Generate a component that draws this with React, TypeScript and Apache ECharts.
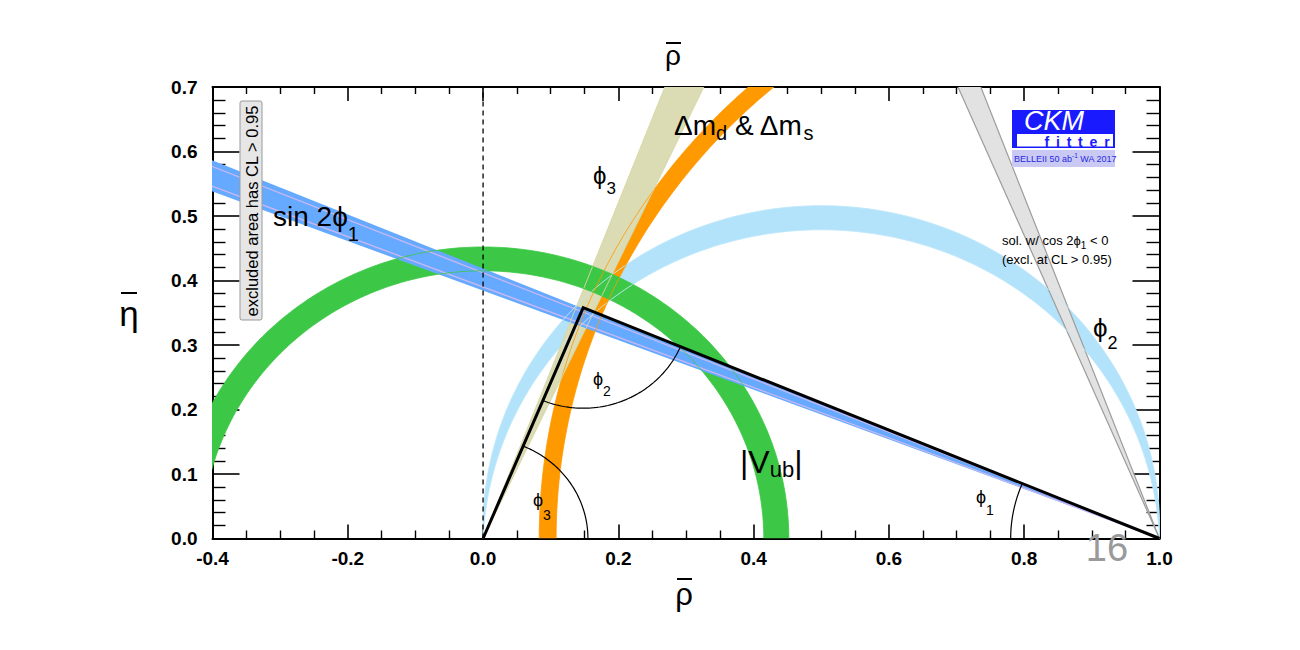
import React, { useEffect, useRef } from 'react';
import * as echarts from 'echarts';

// ---- axes ----
const xRange = [-0.4, 1.0];
const yRange = [0, 0.7];
const xTickStep = 0.2;
const yTickStep = 0.1;

// ---- constraint bands ----
const vubCenter = [0, 0];
const vubRadii = [0.415, 0.452];          // |Vub| annulus
const dmCenter = [1.03, 0];
const dmRadii = [0.922, 0.947];           // Δmd & Δms annulus
const sin2phi1Apex = [1, 0];
const sin2phi1Tan = [0.3843, 0.4186];     // wedge edges (tan φ1)
const sin2phi1Inner = [0.39, 0.4119];     // inner contour lines
const phi3Deg = [65.0, 69.0];             // φ3 wedge from origin
const phi2Deg = [88.2, 92.5];             // φ2 crescent through (0,0),(1,0)
const cosNegSlope = [2.35, 2.65];         // cos 2φ1 < 0 solution wedge from (1,0)

// ---- unitarity triangle ----
const triRho = [0, 0.148, 1];
const triEta = [0, 0.358, 0];
const angleArcRadii = [0.155, 0.156, 0.22]; // φ3, φ2, φ1

const FONT = "'Liberation Sans', Arial, Helvetica, sans-serif";
const D = Math.PI / 180;

function arc(cx: number, cy: number, r: number, a0: number, a1: number, n = 160) {
  const pts: number[][] = [];
  for (let i = 0; i <= n; i++) {
    const a = a0 + ((a1 - a0) * i) / n;
    pts.push([cx + r * Math.cos(a), cy + r * Math.sin(a)]);
  }
  return pts;
}

function phi2Circle(alphaDeg: number, reverse: boolean) {
  const a = alphaDeg * D;
  const cy = 0.5 / Math.tan(a);
  const r = 0.5 / Math.sin(a);
  const tR = Math.atan2(-cy, 0.5);
  let tL = Math.atan2(-cy, -0.5);
  if (tL < tR) tL += 2 * Math.PI;
  return reverse ? arc(0.5, cy, r, tL, tR) : arc(0.5, cy, r, tR, tL);
}

function polygonSeries(pts: number[][], fill: string, z: number) {
  return {
    type: 'custom',
    coordinateSystem: 'cartesian2d',
    clip: true,
    silent: true,
    z,
    data: [[0, 0]],
    renderItem: (_p: any, api: any) => ({
      type: 'polygon',
      shape: { points: pts.map((p) => api.coord(p)) },
      style: { fill, stroke: null },
    }),
  };
}

function polylineSeries(pts: number[][], stroke: string, lineWidth: number, z: number, opacity = 1) {
  return {
    type: 'custom',
    coordinateSystem: 'cartesian2d',
    clip: true,
    silent: true,
    z,
    data: [[0, 0]],
    renderItem: (_p: any, api: any) => ({
      type: 'polyline',
      shape: { points: pts.map((p) => api.coord(p)) },
      style: { stroke, lineWidth, fill: null, opacity },
    }),
  };
}

function subLabel(x: number, y: number, parts: [string, boolean][], mainSize: number, subSize: number, pad: number, fill = '#000') {
  const text = parts.map(([t, s]) => `{${s ? 's' : 'm'}|${t}}`).join('');
  return {
    type: 'text',
    x,
    y,
    silent: true,
    z: 100,
    style: {
      text,
      fill,
      fontFamily: FONT,
      fontSize: mainSize,
      textAlign: 'left',
      textVerticalAlign: 'middle',
      align: 'left',
      verticalAlign: 'middle',
      rich: {
        m: { fontSize: mainSize, fontFamily: FONT, fill },
        s: { fontSize: subSize, fontFamily: FONT, fill, padding: [pad, 0, 0, 0] },
      },
    },
  };
}

function plainText(x: number, y: number, text: string, size: number, fill = '#000', extra: any = {}) {
  const { style: extraStyle, ...rest } = extra;
  return {
    type: 'text',
    x,
    y,
    silent: true,
    z: 100,
    ...rest,
    style: {
      text,
      fill,
      fontFamily: FONT,
      fontSize: size,
      textAlign: 'center',
      textVerticalAlign: 'middle',
      align: 'center',
      verticalAlign: 'middle',
      ...(extraStyle || {}),
    },
  };
}

function buildOption() {
  const [v0, v1] = vubRadii;
  const vubPoly = [...arc(vubCenter[0], vubCenter[1], v1, 0, Math.PI), ...arc(vubCenter[0], vubCenter[1], v0, Math.PI, 0)];
  const [d0, d1] = dmRadii;
  const dmPoly = [...arc(dmCenter[0], dmCenter[1], d1, Math.PI / 2, Math.PI), ...arc(dmCenter[0], dmCenter[1], d0, Math.PI, Math.PI / 2)];
  const L = 2;
  const phi3Pt = (deg: number) => [L * Math.cos(deg * D), L * Math.sin(deg * D)];
  const phi3Poly = [[0, 0], phi3Pt(phi3Deg[0]), phi3Pt(phi3Deg[1])];
  const phi2Poly = [...phi2Circle(phi2Deg[0], false), ...phi2Circle(phi2Deg[1], true)];
  const sinPt = (t: number) => [-0.6, (sin2phi1Apex[0] + 0.6) * t];
  const sinPoly = [sin2phi1Apex, sinPt(sin2phi1Tan[1]), sinPt(sin2phi1Tan[0])];
  const cosPt = (s: number) => [1 - 0.8 / s, 0.8];
  const cosPoly = [[1, 0], cosPt(cosNegSlope[0]), cosPt(cosNegSlope[1])];

  const apex = [triRho[1], triEta[1]];
  const sideL = Math.atan2(apex[1], apex[0]);
  const sideR = Math.atan2(apex[1], apex[0] - 1);
  const arcPhi3 = arc(0, 0, angleArcRadii[0], 0, sideL, 60);
  const arcPhi2 = arc(apex[0], apex[1], angleArcRadii[1], sideL - Math.PI, sideR - Math.PI, 60);
  const arcPhi1 = arc(1, 0, angleArcRadii[2], sideR, Math.PI, 60);

  const lightBlue = '#b3e3fa';
  const orange = '#ff9900';
  const tan = '#dcdcb4';
  const green = '#3cc846';
  const blue = '#66aaff';

  const series: any[] = [
    polygonSeries(phi2Poly, lightBlue, 1),
    polygonSeries(dmPoly, orange, 2),
    polygonSeries(phi3Poly, tan, 3),
    polygonSeries(vubPoly, green, 4),
    polygonSeries(sinPoly, blue, 5),
    polylineSeries([sin2phi1Apex, sinPt(sin2phi1Inner[0])], '#cbb8f2', 1.3, 6),
    polylineSeries([sin2phi1Apex, sinPt(sin2phi1Inner[1])], '#cbb8f2', 1.3, 6),
    polygonSeries(cosPoly, '#e2e2e2', 6),
    polylineSeries([[1, 0], cosPt(cosNegSlope[0])], '#9c9c9c', 1.2, 7),
    polylineSeries([[1, 0], cosPt(cosNegSlope[1])], '#9c9c9c', 1.2, 7),
    // band contours
    polylineSeries(phi2Circle(phi2Deg[0], false), '#bfe8fb', 1, 8, 0.9),
    polylineSeries(phi2Circle(phi2Deg[1], false), '#bfe8fb', 1, 8, 0.9),
    polylineSeries(arc(dmCenter[0], 0, d0, Math.PI / 2, Math.PI), orange, 1, 8, 0.8),
    polylineSeries(arc(dmCenter[0], 0, d1, Math.PI / 2, Math.PI), orange, 1, 8, 0.8),
    polylineSeries([[0, 0], phi3Pt(phi3Deg[0])], '#d6d6a6', 1, 8, 0.9),
    polylineSeries([[0, 0], phi3Pt(phi3Deg[1])], '#d6d6a6', 1, 8, 0.9),
    polylineSeries(arc(0, 0, v0, 0, Math.PI), green, 1, 8, 0.8),
    polylineSeries(arc(0, 0, v1, 0, Math.PI), green, 1, 8, 0.8),
    // dashed rho = 0 line
    {
      type: 'line',
      data: [[0, yRange[0]], [0, yRange[1]]],
      symbol: 'none',
      silent: true,
      z: 9,
      lineStyle: { color: '#000', width: 1.3, type: [5, 4] },
    },
    // angle arcs
    polylineSeries(arcPhi3, '#000', 1.2, 10),
    polylineSeries(arcPhi2, '#000', 1.2, 10),
    polylineSeries(arcPhi1, '#000', 1.2, 10),
    // triangle
    {
      type: 'line',
      data: triRho.map((r, i) => [r, triEta[i]]),
      symbol: 'none',
      silent: true,
      z: 11,
      lineStyle: { color: '#000', width: 3, join: 'miter' },
    },
  ];

  const axisCommon = {
    type: 'value',
    splitLine: { show: false },
    axisLine: { show: true, onZero: false, lineStyle: { color: '#000', width: 2 } },
  };
  const labelStyle = {
    color: '#000',
    fontFamily: FONT,
    fontWeight: 'bold',
    fontSize: 19,
    formatter: (v: number) => v.toFixed(1),
  };

  const fitterRich: any = {
    l: { fontSize: 14, fontFamily: FONT, fontWeight: 'bold', fill: '#1a1aff', lineHeight: 11, padding: [0, 3.4, 0, 3.4] },
  };

  const graphic: any[] = [
    // axis titles
    plainText(684, 594, 'ρ', 31),
    { type: 'line', silent: true, shape: { x1: 677, y1: 579, x2: 692, y2: 579 }, style: { stroke: '#000', lineWidth: 2 } },
    plainText(673, 55, 'ρ', 28),
    { type: 'line', silent: true, shape: { x1: 666, y1: 43, x2: 681, y2: 43 }, style: { stroke: '#000', lineWidth: 2 } },
    plainText(129, 313, 'η', 35),
    { type: 'line', silent: true, shape: { x1: 121, y1: 293, x2: 137, y2: 293 }, style: { stroke: '#000', lineWidth: 2 } },
    // excluded-area box
    { type: 'rect', silent: true, z: 90, shape: { x: 240, y: 101, width: 22, height: 219, r: 2 }, style: { fill: '#e6e6e6', stroke: '#9a9a9a', lineWidth: 1 } },
    plainText(251.5, 211, 'excluded area has CL > 0.95', 16.5, '#000', { rotation: Math.PI / 2 }),
    // band labels
    subLabel(273, 216.5, [['sin 2ϕ', false], ['1', true]], 28, 20, 34),
    subLabel(593, 175, [['ϕ', false], ['3', true]], 24, 17, 26),
    subLabel(674, 125, [['Δm', false], ['d', true], [' & Δm', false], ['s', true]], 28, 20, 15),
    subLabel(740, 462, [['|V', false], ['ub', true], ['|', false]], 32, 22, 14),
    subLabel(1093, 328, [['ϕ', false], ['2', true]], 26, 18, 30),
    subLabel(593, 378.5, [['ϕ', false], ['2', true]], 18, 14, 25),
    subLabel(533, 500, [['ϕ', false], ['3', true]], 18, 14, 30),
    subLabel(976, 497, [['ϕ', false], ['1', true]], 18, 14, 26),
    subLabel(1002, 240, [['sol. w/ cos 2ϕ', false], ['1', true], [' < 0', false]], 13, 10, 10),
    subLabel(1002, 259, [['(excl. at CL > 0.95)', false]], 13, 10, 0),
    // CKMfitter logo
    { type: 'rect', silent: true, z: 90, shape: { x: 1012, y: 110, width: 103, height: 38 }, style: { fill: '#1a1aff' } },
    { type: 'rect', silent: true, z: 91, shape: { x: 1017, y: 134, width: 96, height: 12.5 }, style: { fill: '#ffffff' } },
    plainText(1054, 121, 'CKM', 27, '#ffffff', { style: { fontStyle: 'italic', lineHeight: 20 } }),
    {
      type: 'text',
      x: 1113,
      y: 141.5,
      silent: true,
      z: 100,
      style: {
        text: ['f', 'i', 't', 't', 'e', 'r'].map((c) => `{l|${c}}`).join(''),
        fill: '#1a1aff',
        fontFamily: FONT,
        fontSize: 14,
        fontWeight: 'bold',
        lineHeight: 11,
        textAlign: 'right',
        textVerticalAlign: 'middle',
        align: 'right',
        verticalAlign: 'middle',
        rich: fitterRich,
      },
    },
    { type: 'rect', silent: true, z: 90, shape: { x: 1012, y: 150, width: 103, height: 17 }, style: { fill: '#c9c9f4' } },
    {
      type: 'text',
      x: 1014,
      y: 159,
      silent: true,
      z: 100,
      style: {
        text: '{n|BELLEII 50 ab}{p|-1}{n| WA 2017}',
        fill: '#2a2ae0',
        fontFamily: FONT,
        fontSize: 9,
        textAlign: 'left',
        textVerticalAlign: 'middle',
        align: 'left',
        verticalAlign: 'middle',
        rich: {
          n: { fontSize: 9, fontFamily: FONT, fill: '#2a2ae0' },
          p: { fontSize: 6.5, fontFamily: FONT, fill: '#2a2ae0', padding: [0, 0, 7, 0] },
        },
      },
    },
    // page number
    plainText(1107, 548, '16', 38, '#9a9a9a'),
  ];

  return {
    animation: false,
    backgroundColor: '#ffffff',
    grid: { left: 212.5, right: 140.5, top: 87, bottom: 111.5, containLabel: false },
    xAxis: [
      {
        ...axisCommon,
        position: 'bottom',
        min: xRange[0],
        max: xRange[1],
        interval: xTickStep,
        axisTick: { show: true, inside: true, length: 14, lineStyle: { color: '#000', width: 1.6 } },
        minorTick: { show: true, splitNumber: 4, length: 8, lineStyle: { color: '#000', width: 1.4 } },
        axisLabel: { ...labelStyle, margin: 10 },
      },
      {
        ...axisCommon,
        position: 'top',
        min: xRange[0],
        max: xRange[1],
        interval: xTickStep,
        axisTick: { show: true, inside: true, length: 14, lineStyle: { color: '#000', width: 1.6 } },
        minorTick: { show: true, splitNumber: 4, length: 7, lineStyle: { color: '#000', width: 1.4 } },
        axisLabel: { show: false },
      },
    ],
    yAxis: [
      {
        ...axisCommon,
        position: 'left',
        min: yRange[0],
        max: yRange[1],
        interval: yTickStep,
        axisTick: { show: true, inside: true, length: 27, lineStyle: { color: '#000', width: 1.6 } },
        minorTick: { show: true, splitNumber: 5, length: 13, lineStyle: { color: '#000', width: 1.4 } },
        axisLabel: { ...labelStyle, margin: 15 },
      },
      {
        ...axisCommon,
        position: 'right',
        min: yRange[0],
        max: yRange[1],
        interval: yTickStep,
        axisTick: { show: true, inside: true, length: 27, lineStyle: { color: '#000', width: 1.6 } },
        minorTick: { show: true, splitNumber: 5, length: 13, lineStyle: { color: '#000', width: 1.4 } },
        axisLabel: { show: false },
      },
    ],
    series,
    graphic,
  };
}

export default function App() {
  const ref = useRef<HTMLDivElement>(null);
  useEffect(() => {
    if (!ref.current) return;
    const chart = echarts.init(ref.current, null, { renderer: 'svg' });
    chart.setOption(buildOption() as any);
    return () => chart.dispose();
  }, []);
  return (
    <div
      ref={ref}
      style={{ position: 'fixed', left: 0, top: 0, width: 1300, height: 650, background: '#fff' }}
    />
  );
}
